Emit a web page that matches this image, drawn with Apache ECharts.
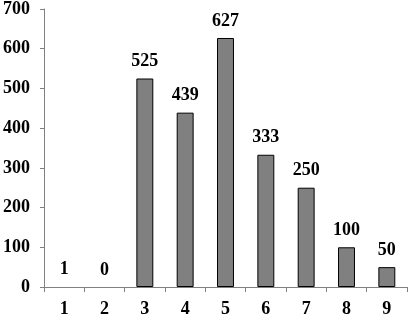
<!DOCTYPE html>
<html><head><meta charset="utf-8">
<script src="https://cdn.jsdelivr.net/npm/echarts@6/dist/echarts.min.js"></script>
<style>html,body{margin:0;padding:0;background:#fff}#c{width:408px;height:321px}</style>
</head><body><div id="c"></div>
<script>
const categories = ['1','2','3','4','5','6','7','8','9'];
const values = [1, 0, 525, 439, 627, 333, 250, 100, 50];
const yTicks = [0, 700, 100];
const font = '"Liberation Serif", "DejaVu Serif", serif';
const chart = echarts.init(document.getElementById('c'), null, {renderer:'canvas'});
chart.setOption({
  animation:false,
  backgroundColor:'#fff',
  grid:{left:42, right:1, top:6, bottom:34, containLabel:false},
  xAxis:{type:'category', data:categories,
    axisLine:{lineStyle:{color:'#808080', width:1}},
    axisTick:{show:true, alignWithLabel:false, length:5, inside:false, lineStyle:{color:'#808080'}},
    axisLabel:{fontFamily:font, fontWeight:'bold', fontSize:18, color:'#000', margin:13}},
  yAxis:{type:'value', min:yTicks[0], max:yTicks[1], interval:yTicks[2],
    splitLine:{show:false},
    axisLine:{show:true, lineStyle:{color:'#808080', width:1}},
    axisTick:{show:true, length:4, lineStyle:{color:'#808080'}},
    axisLabel:{fontFamily:font, fontWeight:'bold', fontSize:18, color:'#000', margin:14}},
  series:[{type:'bar',
    data:values.map(v => ({value:v, itemStyle: v < 2 ? {borderWidth:0, color:'transparent'} : {}})),
    barWidth:'42%',
    itemStyle:{color:'#808080', borderColor:'#000', borderWidth:1},
    label:{show:true, position:'top', distance:8, fontFamily:font, fontWeight:'bold', fontSize:18, color:'#000'}}]
});
</script></body></html>
